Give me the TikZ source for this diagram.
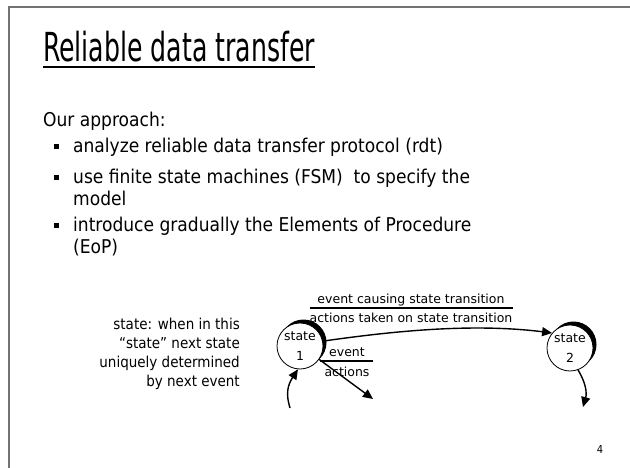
\documentclass[tikz,border=0pt]{standalone}
\usepackage{fontspec}
\setmainfont{DejaVu Sans}
\newfontfamily\slidefont{DejaVu Sans Condensed}
\newfontfamily\handfont{DejaVu Sans}
\usetikzlibrary{arrows.meta}

\tikzset{
  slidetext/.style={anchor=base west, inner sep=0pt, font=\slidefont\fontsize{19}{23}\selectfont},
  notetext/.style={anchor=base east, inner sep=0pt, font=\slidefont\fontsize{15}{19}\selectfont},
  labeltext/.style={anchor=base, inner sep=0pt, font=\handfont\fontsize{12.5}{15}\selectfont},
  statenode/.style={circle, draw, line width=0.8pt, fill=white, minimum size=46pt, inner sep=0pt,
    align=center, font=\handfont\fontsize{12.5}{20}\selectfont},
  shade/.style={fill=black},
  arr/.style={line width=1.4pt, -{Triangle[length=10pt,width=9pt]}},
  bulletbox/.style={fill=black, minimum size=5pt, inner sep=0pt},
  frameline/.style={draw=black!55, line width=1.6pt},
  rule/.style={line width=1.4pt}
}

\begin{document}
\begin{tikzpicture}[x=1pt,y=-1pt]
\useasboundingbox (0,0) rectangle (630,468);
\fill[white] (0,0) rectangle (630,468);

% slide frame
\draw[frameline] (632,7) -- (9,7) -- (9,470);

% title, set narrow
\node[anchor=base west, inner sep=0pt, font=\slidefont\fontsize{40}{48}\selectfont] (title) at (43,62)
  {\scalebox{0.7}[1]{Reliable data transfer}};
\draw[rule] ([yshift=-5pt]title.base west) -- ([yshift=-5pt]title.base east);

% body text
\node[slidetext] (intro) at (43,127) {Our approach:};
\node[slidetext] (item1) at (73,153) {analyze reliable data transfer protocol (rdt)};
\node[slidetext] (item2a) at (73,184) {use finite state machines (FSM)\ \ to specify the};
\node[slidetext] (item2b) at (73,206) {model};
\node[slidetext] (item3a) at (73,232) {introduce gradually the Elements of Procedure};
\node[slidetext] (item3b) at (73,254) {(EoP)};
\node[bulletbox] (b1) at (56,147) {};
\node[bulletbox] (b2) at (56,178) {};
\node[bulletbox] (b3) at (56,226) {};

% side note
\node[notetext] (n1) at (240,329) {state: when in this};
\node[notetext] (n2) at (240,348) {“state” next state};
\node[notetext] (n3) at (240,367) {uniquely determined};
\node[notetext] (n4) at (240,386) {by next event};

% states with their dark rims
\coordinate (c1) at (300,346);
\coordinate (c2) at (570,348);
\fill[shade] ([shift={(3.5pt,3.5pt)}]c1) circle (23pt);
\fill[shade] ([shift={(3.5pt,3.5pt)}]c2) circle (23pt);
\node[statenode] (s1) at (c1) {state\\1};
\node[statenode] (s2) at (c2) {state\\2};

% transitions
\draw[arr] (s1.12) .. controls +(70,-10) and +(-80,-10) .. (s2.140);
\coordinate (e1) at (373,399);
\draw[arr] (s1.-35) -- (e1);
\coordinate (l1) at (290,408);
\draw[arr] (l1) .. controls (286,395) and (287,386) .. (s1.-95);
\coordinate (l2) at (583,407);
\draw[arr] (s2.-70) .. controls (586,383) and (587,393) .. (l2);

% transition labels
\coordinate (t1) at (310,308);
\coordinate (t2) at (513,308);
\draw[rule] (t1) -- (t2);
\node[labeltext] (ev) at (411,303) {event causing state transition};
\node[labeltext] (ac) at (411,322) {actions taken on state transition};
\coordinate (f1) at (320,361);
\coordinate (f2) at (373,361);
\draw[rule] (f1) -- (f2);
\node[labeltext] (ev2) at (347,356) {event};
\node[labeltext] (ac2) at (347,376) {actions};

% page number
\node[anchor=base, inner sep=0pt, font=\slidefont\fontsize{11}{13}\selectfont] (page) at (600,453) {4};
\end{tikzpicture}
\end{document}
